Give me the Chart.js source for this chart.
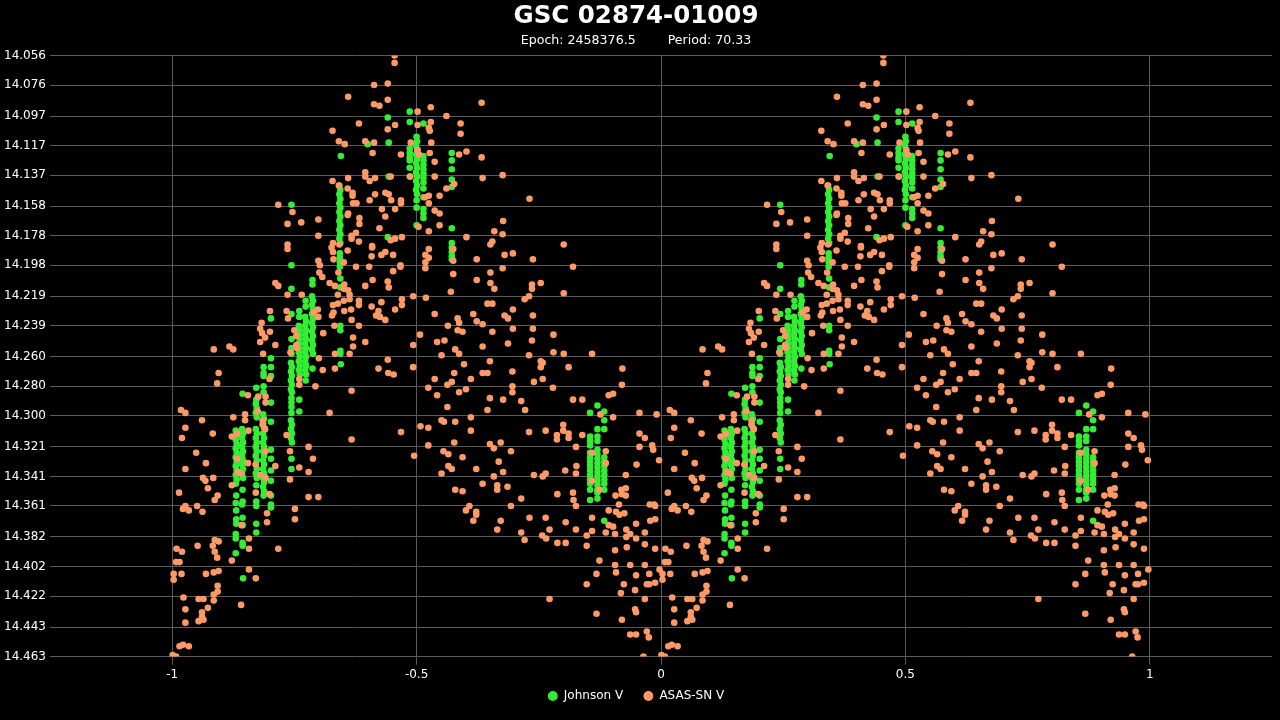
<!DOCTYPE html>
<html><head><meta charset="utf-8">
<script src="https://cdn.jsdelivr.net/npm/chart.js@4/dist/chart.umd.min.js"></script>
<style>html,body{margin:0;padding:0;background:#000;overflow:hidden}#wrap{width:1280px;height:720px;position:relative}</style>
</head><body><div id="wrap"><canvas id="c"></canvas></div>
<script>
const titleText = 'GSC 02874-01009';
const subtitleText = 'Epoch: 2458376.5        Period: 70.33';
const seriesNames = ['Johnson V', 'ASAS-SN V'];
const xTicks = [-1, -0.5, 0, 0.5, 1];
const yTicks = [14.056,14.076,14.097,14.117,14.137,14.158,14.178,14.198,14.219,14.239,14.260,14.280,14.300,14.321,14.341,14.361,14.382,14.402,14.422,14.443,14.463];

// Johnson V observations: [phase, magnitude]
const johnsonV = [
[0.400,14.116],[0.441,14.098],[0.443,14.115],[0.443,14.138],[0.441,14.179],[0.345,14.124],[0.244,14.157],[0.202,14.234],[0.145,14.410],[0.884,14.371],
[0.130,14.310],[0.132,14.313],[0.130,14.316],[0.132,14.319],[0.130,14.322],[0.132,14.325],[0.130,14.328],[0.132,14.331],[0.130,14.334],[0.132,14.337],[0.130,14.340],[0.132,14.343],[0.130,14.346],[0.131,14.354],[0.130,14.359],[0.131,14.364],[0.131,14.370],[0.131,14.373],[0.130,14.380],[0.130,14.383],[0.130,14.393],
[0.144,14.285],[0.143,14.309],[0.145,14.312],[0.143,14.315],[0.145,14.318],[0.143,14.321],[0.145,14.324],[0.143,14.327],[0.145,14.330],[0.143,14.333],[0.145,14.336],[0.143,14.339],[0.145,14.342],[0.144,14.350],[0.144,14.358],[0.143,14.360],[0.144,14.369],[0.144,14.374],[0.144,14.386],[0.144,14.388],
[0.172,14.281],[0.172,14.289],[0.171,14.292],[0.173,14.295],[0.171,14.298],[0.173,14.301],[0.171,14.309],[0.173,14.312],[0.171,14.315],[0.173,14.318],[0.171,14.321],[0.173,14.324],[0.171,14.327],[0.173,14.330],[0.171,14.333],[0.173,14.336],[0.171,14.339],[0.173,14.342],[0.172,14.347],[0.172,14.358],[0.172,14.361],[0.172,14.373],[0.172,14.379],
[0.187,14.267],[0.187,14.271],[0.187,14.273],[0.187,14.280],[0.187,14.284],[0.186,14.299],[0.188,14.302],[0.186,14.305],[0.188,14.308],[0.186,14.312],[0.188,14.315],[0.186,14.318],[0.188,14.321],[0.186,14.324],[0.188,14.327],[0.186,14.330],[0.188,14.333],[0.186,14.336],[0.188,14.339],[0.186,14.342],[0.188,14.345],[0.186,14.348],[0.188,14.351],[0.187,14.354],
[0.202,14.261],[0.202,14.267],[0.202,14.273],[0.202,14.291],[0.202,14.304],[0.202,14.323],[0.202,14.329],[0.202,14.337],[0.202,14.344],[0.202,14.354],[0.202,14.360],[0.202,14.362],
[0.244,14.198],[0.244,14.214],[0.244,14.231],[0.244,14.248],[0.244,14.254],[0.244,14.258],[0.243,14.264],[0.245,14.267],[0.243,14.270],[0.245,14.273],[0.243,14.276],[0.245,14.279],[0.243,14.282],[0.245,14.284],[0.244,14.288],[0.244,14.291],[0.244,14.294],[0.244,14.298],[0.243,14.303],[0.245,14.306],[0.243,14.309],[0.245,14.312],[0.243,14.315],[0.245,14.318],[0.244,14.329],[0.244,14.336],
[0.260,14.229],[0.260,14.233],[0.259,14.239],[0.261,14.242],[0.259,14.245],[0.261,14.248],[0.259,14.251],[0.261,14.254],[0.259,14.257],[0.261,14.260],[0.259,14.263],[0.261,14.266],[0.259,14.269],[0.261,14.272],[0.260,14.289],[0.260,14.297],
[0.273,14.222],[0.273,14.226],[0.272,14.233],[0.274,14.236],[0.272,14.239],[0.274,14.242],[0.272,14.245],[0.274,14.248],[0.272,14.251],[0.274,14.254],[0.272,14.257],[0.274,14.260],[0.272,14.263],[0.274,14.266],[0.272,14.269],[0.274,14.272],[0.273,14.276],
[0.287,14.208],[0.287,14.211],[0.286,14.219],[0.288,14.222],[0.286,14.225],[0.288,14.228],[0.286,14.231],[0.288,14.234],[0.286,14.237],[0.288,14.240],[0.286,14.243],[0.288,14.246],[0.286,14.249],[0.288,14.252],[0.286,14.255],[0.288,14.258],[0.287,14.268],
[0.342,14.144],[0.344,14.147],[0.342,14.150],[0.344,14.153],[0.342,14.156],[0.344,14.159],[0.342,14.162],[0.344,14.165],[0.342,14.168],[0.344,14.171],[0.342,14.174],[0.344,14.177],[0.342,14.180],[0.344,14.183],[0.343,14.190],[0.343,14.193],[0.343,14.196],[0.343,14.199],[0.344,14.207],[0.344,14.213],[0.344,14.239],[0.344,14.242],[0.344,14.256],[0.344,14.258],[0.345,14.265],
[0.486,14.094],[0.486,14.101],[0.486,14.119],[0.486,14.122],[0.486,14.125],[0.486,14.127],[0.486,14.132],[0.486,14.138],
[0.500,14.111],[0.501,14.114],[0.499,14.117],[0.501,14.120],[0.499,14.123],[0.501,14.126],[0.499,14.129],[0.501,14.132],[0.499,14.135],[0.501,14.138],[0.499,14.141],[0.501,14.144],[0.499,14.147],[0.501,14.150],[0.500,14.154],[0.500,14.159],[0.500,14.171],
[0.514,14.102],[0.514,14.124],[0.514,14.127],[0.514,14.130],[0.514,14.133],[0.514,14.136],[0.514,14.139],[0.514,14.142],[0.514,14.146],[0.514,14.152],[0.514,14.160],[0.514,14.163],[0.514,14.166],
[0.572,14.122],[0.572,14.127],[0.572,14.133],[0.572,14.140],[0.572,14.145],[0.572,14.173],[0.572,14.183],[0.572,14.186],[0.572,14.189],[0.572,14.192],[0.572,14.194],
[0.855,14.298],[0.855,14.314],[0.855,14.317],[0.855,14.320],[0.855,14.325],[0.855,14.328],[0.855,14.331],[0.855,14.334],[0.855,14.337],[0.855,14.340],[0.855,14.343],[0.855,14.346],[0.855,14.350],[0.855,14.357],
[0.870,14.293],[0.870,14.309],[0.870,14.314],[0.870,14.317],[0.870,14.323],[0.870,14.326],[0.870,14.329],[0.870,14.332],[0.870,14.335],[0.870,14.338],[0.870,14.341],[0.870,14.344],[0.870,14.347],[0.870,14.350],[0.870,14.352],[0.870,14.356],
[0.884,14.297],[0.884,14.303],[0.884,14.309],[0.884,14.328],[0.884,14.331],[0.884,14.334],[0.884,14.337],[0.884,14.340],[0.884,14.343],[0.884,14.346],[0.884,14.350]
];

// ASAS-SN V observations: [phase, magnitude]
const asasV = [
[0.455,14.056],[0.455,14.061],[0.413,14.076],[0.441,14.075],[0.360,14.084],[0.413,14.089],[0.424,14.090],[0.441,14.086],[0.502,14.094],[0.502,14.103],[0.382,14.102],[0.328,14.107],[0.456,14.103],[0.441,14.106],[0.341,14.114],[0.353,14.116],[0.395,14.114],[0.413,14.115],[0.410,14.122],[0.468,14.123],[0.488,14.115],[0.502,14.120],[0.505,14.123],[0.395,14.135],[0.395,14.138],[0.404,14.141],[0.415,14.139],[0.328,14.141],[0.341,14.144],[0.360,14.139],[0.359,14.146],[0.369,14.149],[0.369,14.151],[0.415,14.150],[0.436,14.149],[0.443,14.150],[0.447,14.138],[0.487,14.138],[0.404,14.154],[0.448,14.154],[0.468,14.154],[0.468,14.156],[0.370,14.156],[0.377,14.156],[0.217,14.157],
[0.633,14.088],[0.529,14.091],[0.561,14.097],[0.529,14.101],[0.590,14.102],[0.525,14.105],[0.527,14.107],[0.590,14.109],[0.530,14.115],[0.602,14.121],[0.587,14.123],[0.527,14.122],[0.633,14.125],[0.537,14.128],[0.537,14.138],[0.676,14.137],[0.635,14.139],[0.577,14.143],[0.561,14.146],[0.547,14.151],[0.525,14.151],[0.517,14.152],[0.525,14.156],[0.731,14.153],
[0.246,14.162],[0.236,14.170],[0.264,14.169],[0.299,14.167],[0.299,14.178],[0.236,14.184],[0.236,14.187],[0.360,14.163],[0.359,14.164],[0.383,14.166],[0.383,14.170],[0.429,14.160],[0.456,14.160],[0.436,14.165],[0.424,14.173],[0.376,14.176],[0.367,14.178],[0.367,14.180],[0.382,14.182],[0.359,14.188],[0.329,14.183],[0.326,14.186],[0.329,14.189],[0.342,14.184],[0.409,14.185],[0.409,14.186],[0.408,14.192],[0.428,14.191],[0.436,14.189],[0.452,14.191],[0.447,14.181],[0.456,14.180],[0.470,14.179],[0.330,14.194],[0.351,14.196],[0.299,14.195],[0.302,14.198],[0.376,14.199],[0.403,14.199],[0.467,14.198],[0.467,14.199],[0.452,14.202],[0.301,14.203],[0.307,14.206],[0.340,14.203],[0.322,14.210],[0.211,14.210],[0.217,14.212],[0.410,14.208],[0.441,14.209],[0.443,14.213],[0.395,14.212],[0.333,14.212],[0.352,14.211],[0.351,14.214],[0.360,14.215],[0.363,14.218],[0.339,14.218],[0.236,14.218],[0.265,14.218],[0.493,14.219],[0.351,14.222],[0.363,14.221],[0.339,14.224],[0.329,14.225],[0.382,14.222],[0.382,14.225],[0.428,14.223],[0.470,14.221],[0.470,14.225],[0.408,14.226],[0.422,14.229],[0.417,14.232],[0.425,14.233],[0.436,14.235],[0.456,14.228],[0.352,14.229],[0.366,14.228],[0.327,14.232],[0.330,14.230],[0.367,14.235],[0.298,14.228],[0.299,14.233],[0.290,14.230],[0.200,14.229],[0.234,14.229],[0.237,14.234],[0.183,14.237],[0.180,14.241],[0.184,14.244],[0.190,14.247],[0.180,14.250],[0.200,14.243],[0.211,14.252],[0.117,14.253],[0.125,14.255],[0.085,14.255],[0.186,14.258],[0.250,14.242],[0.254,14.246],[0.254,14.252],[0.255,14.254],[0.332,14.239],[0.309,14.244],[0.382,14.239],[0.370,14.247],[0.370,14.253],[0.363,14.258],[0.395,14.250],[0.493,14.252],[0.507,14.245],[0.333,14.258],
[0.537,14.161],[0.547,14.163],[0.504,14.172],[0.547,14.171],[0.525,14.175],[0.677,14.168],[0.659,14.175],[0.676,14.177],[0.602,14.179],[0.655,14.182],[0.651,14.184],[0.801,14.184],[0.525,14.187],[0.575,14.187],[0.518,14.191],[0.525,14.193],[0.518,14.196],[0.518,14.200],[0.575,14.195],[0.623,14.194],[0.680,14.191],[0.697,14.190],[0.738,14.194],[0.820,14.199],[0.676,14.200],[0.575,14.204],[0.651,14.203],[0.623,14.208],[0.651,14.210],[0.659,14.214],[0.736,14.211],[0.736,14.214],[0.754,14.210],[0.801,14.217],[0.570,14.216],[0.519,14.220],[0.730,14.219],[0.721,14.221],[0.645,14.224],[0.655,14.224],[0.697,14.228],[0.537,14.231],[0.616,14.231],[0.680,14.232],[0.687,14.234],[0.738,14.232],[0.584,14.234],[0.587,14.237],[0.623,14.236],[0.635,14.238],[0.564,14.239],[0.697,14.241],[0.738,14.241],[0.584,14.242],[0.594,14.243],[0.655,14.243],[0.780,14.245],[0.542,14.250],[0.557,14.249],[0.736,14.249],[0.687,14.251],[0.635,14.253],[0.579,14.255],[0.587,14.258],[0.551,14.259],[0.780,14.257],[0.801,14.258],[0.859,14.258],[0.730,14.259],
[0.242,14.257],[0.095,14.271],[0.092,14.278],[0.199,14.275],[0.260,14.275],[0.260,14.279],[0.300,14.261],[0.308,14.269],[0.333,14.268],[0.293,14.280],[0.367,14.283],[0.422,14.268],[0.441,14.262],[0.442,14.271],[0.453,14.272],[0.493,14.267],[0.155,14.286],[0.176,14.287],[0.191,14.287],[0.191,14.291],[0.175,14.297],[0.149,14.299],[0.125,14.301],[0.149,14.303],[0.018,14.296],[0.027,14.298],[0.991,14.299],[0.061,14.303],[0.185,14.303],[0.185,14.306],[0.190,14.309],[0.156,14.310],[0.122,14.314],[0.133,14.312],[0.083,14.312],[0.027,14.308],[0.020,14.315],[0.234,14.313],[0.322,14.298],[0.367,14.316],[0.468,14.311],[0.508,14.307],[0.279,14.321],[0.241,14.324],[0.191,14.324],[0.049,14.325],[0.996,14.330],[0.069,14.332],[0.133,14.329],[0.155,14.332],[0.171,14.333],[0.211,14.334],[0.260,14.335],[0.288,14.329],[0.279,14.338],[0.495,14.327],[0.027,14.336],[0.134,14.338],[0.141,14.339],[0.180,14.340],[0.191,14.342],[0.063,14.342],[0.068,14.344],[0.084,14.342],[0.241,14.343],[0.122,14.347],[0.073,14.349],[0.014,14.352],[0.171,14.352],[0.199,14.353],[0.093,14.354],[0.087,14.357],[0.279,14.355],[0.299,14.355],[0.027,14.361],[0.051,14.361],
[0.650,14.263],[0.597,14.265],[0.754,14.263],[0.758,14.264],[0.754,14.267],[0.811,14.267],[0.921,14.268],[0.577,14.271],[0.635,14.271],[0.645,14.271],[0.696,14.270],[0.537,14.275],[0.611,14.275],[0.758,14.275],[0.740,14.277],[0.563,14.279],[0.572,14.277],[0.524,14.281],[0.696,14.280],[0.696,14.284],[0.779,14.281],[0.920,14.279],[0.587,14.284],[0.601,14.282],[0.542,14.286],[0.650,14.288],[0.677,14.289],[0.714,14.290],[0.893,14.286],[0.902,14.285],[0.820,14.289],[0.839,14.289],[0.563,14.294],[0.645,14.296],[0.722,14.296],[0.876,14.299],[0.902,14.301],[0.956,14.298],[0.611,14.301],[0.551,14.303],[0.556,14.304],[0.579,14.304],[0.524,14.308],[0.800,14.306],[0.800,14.310],[0.611,14.310],[0.730,14.311],[0.764,14.310],[0.787,14.313],[0.787,14.316],[0.811,14.312],[0.811,14.315],[0.839,14.313],[0.956,14.312],[0.967,14.315],[0.577,14.318],[0.524,14.320],[0.650,14.319],[0.658,14.322],[0.672,14.318],[0.693,14.324],[0.826,14.321],[0.956,14.321],[0.982,14.320],[0.984,14.323],[0.555,14.324],[0.565,14.326],[0.594,14.328],[0.668,14.331],[0.859,14.325],[0.887,14.324],[0.887,14.332],[0.950,14.333],[0.565,14.334],[0.572,14.336],[0.622,14.336],[0.677,14.338],[0.551,14.339],[0.658,14.341],[0.740,14.340],[0.758,14.341],[0.764,14.339],[0.804,14.337],[0.826,14.339],[0.827,14.334],[0.928,14.340],[0.635,14.346],[0.665,14.347],[0.665,14.350],[0.686,14.348],[0.579,14.350],[0.594,14.351],[0.714,14.356],[0.788,14.353],[0.820,14.352],[0.821,14.357],[0.859,14.344],[0.874,14.350],[0.907,14.354],[0.920,14.353],[0.928,14.349],[0.928,14.354],[0.919,14.350],[0.608,14.361],[0.693,14.361],[0.826,14.361],[0.914,14.360],[0.977,14.360],[0.986,14.360],
[0.022,14.363],[0.034,14.364],[0.062,14.365],[0.988,14.361],[0.988,14.370],[0.194,14.366],[0.194,14.372],[0.251,14.363],[0.251,14.370],[0.142,14.374],[0.087,14.384],[0.095,14.385],[0.083,14.388],[0.087,14.392],[0.092,14.396],[0.052,14.388],[0.009,14.390],[0.020,14.392],[0.988,14.390],[0.157,14.383],[0.157,14.390],[0.217,14.390],[0.122,14.398],[0.008,14.399],[0.015,14.399],[0.997,14.404],[0.003,14.407],[0.003,14.411],[0.988,14.413],[0.019,14.407],[0.069,14.407],[0.085,14.406],[0.095,14.405],[0.157,14.404],[0.171,14.410],[0.093,14.415],[0.093,14.419],[0.085,14.421],[0.085,14.425],[0.023,14.423],[0.054,14.424],[0.064,14.424],[0.141,14.428],[0.073,14.430],[0.027,14.431],[0.061,14.433],[0.061,14.436],[0.064,14.438],[0.054,14.439],[0.027,14.440],[0.015,14.456],[0.022,14.455],[0.034,14.456],[0.001,14.462],[0.008,14.463],
[0.601,14.364],[0.622,14.365],[0.622,14.367],[0.616,14.371],[0.672,14.371],[0.665,14.377],[0.731,14.369],[0.764,14.369],[0.714,14.379],[0.721,14.384],[0.772,14.377],[0.757,14.381],[0.765,14.383],[0.805,14.372],[0.788,14.386],[0.805,14.386],[0.826,14.377],[0.859,14.369],[0.859,14.378],[0.848,14.381],[0.848,14.388],[0.893,14.364],[0.908,14.365],[0.915,14.367],[0.925,14.366],[0.893,14.374],[0.902,14.375],[0.887,14.379],[0.906,14.380],[0.929,14.377],[0.937,14.380],[0.929,14.382],[0.949,14.383],[0.949,14.373],[0.978,14.371],[0.967,14.379],[0.906,14.391],[0.930,14.389],[0.967,14.387],[0.874,14.398],[0.906,14.401],[0.908,14.406],[0.937,14.401],[0.967,14.401],[0.976,14.407],[0.868,14.407],[0.949,14.408],[0.848,14.414],[0.924,14.414],[0.971,14.414],[0.976,14.414],[0.918,14.420],[0.947,14.418],[0.772,14.424],[0.967,14.424],[0.868,14.434],[0.947,14.431],[0.949,14.433],[0.920,14.438],[0.937,14.448],[0.949,14.448],[0.971,14.446],[0.975,14.450],[0.964,14.463]
];

// the light curve is plotted twice: at phase and at phase - 1
function fold(pts) {
  const out = [];
  pts.forEach(([p, m]) => { out.push({x: p, y: m}); out.push({x: p - 1, y: m}); });
  return out;
}

Chart.defaults.font.family = '"DejaVu Sans", Verdana, sans-serif';
Chart.defaults.color = '#fff';

new Chart(document.getElementById('c'), {
  type: 'scatter',
  data: {
    datasets: [
      {label: seriesNames[0], data: fold(johnsonV), backgroundColor: '#33ee33', borderColor: '#33ee33', borderWidth: 0, pointRadius: 3.3, order: 1},
      {label: seriesNames[1], data: fold(asasV), backgroundColor: '#ff9966', borderColor: '#ff9966', borderWidth: 0, pointRadius: 3.3, order: 0}
    ]
  },
  options: {
    responsive: true, maintainAspectRatio: false, animation: false,
    layout: {padding: {left: 0, right: 8, top: 0, bottom: 8}},
    plugins: {
      title: {display: true, text: titleText, color: '#fff', font: {size: 24.5, weight: 'bold'}, padding: {top: 2, bottom: 2}},
      subtitle: {display: true, text: subtitleText, color: '#fff', font: {size: 12.6}, padding: {top: 0, bottom: 7}},
      legend: {
        position: 'bottom',
        labels: {
          usePointStyle: true, pointStyle: 'circle', boxWidth: 10, boxHeight: 7, padding: 5, color: '#fff', font: {size: 12},
          generateLabels: (chart) => {
            const items = Chart.defaults.plugins.legend.labels.generateLabels(chart);
            items.forEach(it => { if (it.datasetIndex === 0) it.text = it.text + '    '; });
            return items;
          },
          sort: (a, b) => a.datasetIndex - b.datasetIndex
        }
      },
      tooltip: {enabled: false}
    },
    scales: {
      x: {
        type: 'linear', min: -1.25, max: 1.25,
        afterBuildTicks: (s) => { s.ticks = xTicks.map(v => ({value: v})); },
        ticks: {color: '#fff', font: {size: 12}, padding: 3, callback: (v) => String(v)},
        grid: {color: '#5a5a5a', drawTicks: true, tickLength: 8},
        border: {display: false}
      },
      y: {
        type: 'linear', reverse: true, min: yTicks[0], max: yTicks[yTicks.length - 1],
        afterBuildTicks: (s) => { s.ticks = yTicks.map(v => ({value: v})); },
        afterFit: (s) => { s.width = 50; },
        ticks: {color: '#fff', font: {size: 12}, padding: 4, callback: (v) => v.toFixed(3)},
        grid: {color: '#5a5a5a', drawTicks: false},
        border: {display: false}
      }
    }
  }
});
</script></body></html>
